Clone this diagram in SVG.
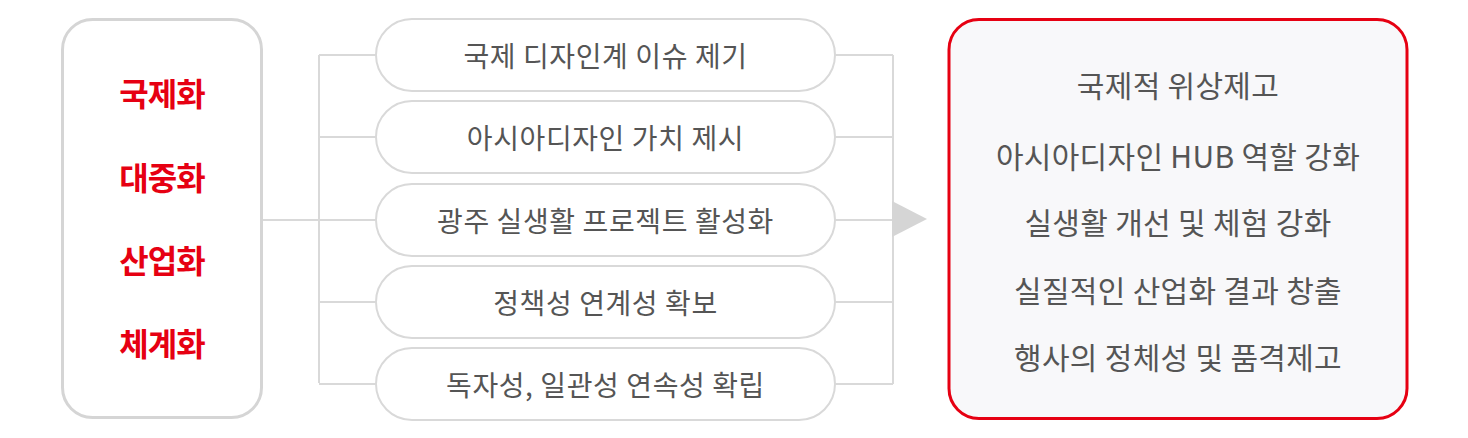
<svg xmlns="http://www.w3.org/2000/svg" width="1468" height="438" viewBox="0 0 1468 438">
<style>
.lbox{fill:#fff;stroke:#d5d5d5;stroke-width:3}
.pill{fill:#fff;stroke:#d9d9d9;stroke-width:2}
.rbox{fill:#f8f8fa;stroke:#e60012;stroke-width:3}
.line{fill:none;stroke:#d9d9d9;stroke-width:2}
.red{font-family:"Noto Sans CJK KR","Noto Sans",sans-serif;font-weight:700;font-size:32px;fill:#e60012;text-anchor:middle;dominant-baseline:central;letter-spacing:-1px}
.ptxt{font-family:"Noto Sans CJK KR","Noto Sans",sans-serif;font-size:28px;fill:#555;text-anchor:middle;dominant-baseline:central;letter-spacing:0.6px}
.rtxt{font-family:"Noto Sans CJK KR","Noto Sans",sans-serif;font-size:30px;fill:#555;text-anchor:middle;dominant-baseline:central;letter-spacing:0.3px}
</style>
<rect width="1468" height="438" fill="#fff"/>
<g id="connectors">
<path class="line" d="M262 220H319M319 55V383M319 55H376M319 137H376M319 220H376M319 302H376M319 384H376"/>
<path class="line" d="M835 55H893M835 137H893M835 220H893M835 302H893M835 384H893M893 55V384"/>
<polygon points="892,201 927,219 892,237" fill="#d5d5d5"/>
</g>
<g id="left-box">
<rect class="lbox" x="62.5" y="19.5" width="199" height="398" rx="30"/>
<text class="red" x="162" y="92">국제화</text>
<text class="red" x="162" y="175.5">대중화</text>
<text class="red" x="162" y="259">산업화</text>
<text class="red" x="162" y="342">체계화</text>
</g>
<g id="pill1"><rect class="pill" x="376" y="19" width="459" height="72" rx="36"/><text class="ptxt" x="605.5" y="55">국제 디자인계 이슈 제기</text></g>
<g id="pill2"><rect class="pill" x="376" y="101" width="459" height="72" rx="36"/><text class="ptxt" x="605.5" y="137">아시아디자인 가치 제시</text></g>
<g id="pill3"><rect class="pill" x="376" y="184" width="459" height="72" rx="36"/><text class="ptxt" x="605.5" y="220">광주 실생활 프로젝트 활성화</text></g>
<g id="pill4"><rect class="pill" x="376" y="266" width="459" height="72" rx="36"/><text class="ptxt" x="605.5" y="302">정책성 연계성 확보</text></g>
<g id="pill5"><rect class="pill" x="376" y="348" width="459" height="72" rx="36"/><text class="ptxt" x="605.5" y="384">독자성, 일관성 연속성 확립</text></g>
<g id="right-box">
<rect class="rbox" x="949" y="19.5" width="458" height="399" rx="30"/>
<text class="rtxt" x="1178" y="83.5">국제적 위상제고</text>
<text class="rtxt" x="1178" y="154.5">아시아디자인 HUB 역할 강화</text>
<text class="rtxt" x="1178" y="221">실생활 개선 및 체험 강화</text>
<text class="rtxt" x="1178" y="289">실질적인 산업화 결과 창출</text>
<text class="rtxt" x="1178" y="356">행사의 정체성 및 품격제고</text>
</g>
</svg>
